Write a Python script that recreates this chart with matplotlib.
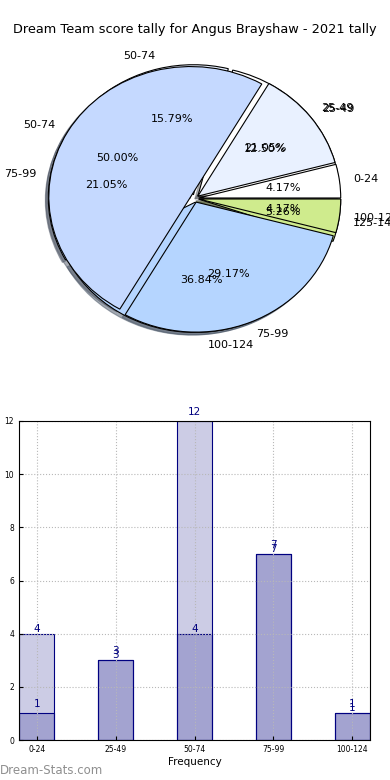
import matplotlib
matplotlib.use('Agg')
import matplotlib.pyplot as plt
import numpy as np

# Data
title = 'Dream Team score tally for Angus Brayshaw - 2021 tally'
labels_a = ['0-24', '25-49', '50-74', '75-99', '100-124']
counts_a = [1, 3, 12, 7, 1]
labels_b = ['25-49', '50-74', '75-99', '100-124', '125-149']
counts_b = [4, 3, 4, 7, 1]
colours = ['#ffffff', '#e9f1ff', '#c5d9ff', '#b5d5ff', '#cfeb8d']

fig = plt.figure(figsize=(3.9, 7.8), dpi=100)
fig.text(0.5, 1 - 30 / 780, title, ha='center', va='center', fontsize=9.3)

# Pie (two tallies drawn on top of each other)
ax1 = fig.add_axes([17 / 390, 419 / 780, 355 / 390, 325 / 780])
wp = dict(edgecolor='black', linewidth=0.8)
for labels, counts in [(labels_b, counts_b), (labels_a, counts_a)]:
    ax1.pie(counts, labels=labels, colors=colours, explode=[0.03] * len(counts),
            autopct='%1.2f%%', shadow={'ox': -0.015, 'oy': -0.015, 'shade': 0.6},
            startangle=0, wedgeprops=wp, textprops=dict(fontsize=8))
ax1.set_aspect('auto')
ax1.set_xlim(-1.25, 1.25)
ax1.set_ylim(-1.25, 1.25)
ax1.axis('off')

# Bars
ax2 = fig.add_axes([19 / 390, 40 / 780, 351 / 390, 319 / 780])
x = np.arange(len(labels_a))
w = 0.45
face = (0, 0, 0.5, 0.2)
ax2.bar(x, counts_a, w, color=face, edgecolor='navy', linewidth=0.8)
ax2.bar(x, counts_b, w, color=face, edgecolor='navy', linewidth=0.8)
for xi, h in zip(x, counts_a):
    ax2.annotate(str(h), (xi, h), xytext=(0, 6.5), textcoords='offset points',
                 ha='center', va='center', color='navy', fontsize=7.5)
for xi, h in zip(x, counts_b):
    ax2.annotate(str(h), (xi, h), xytext=(0, 3.6), textcoords='offset points',
                 ha='center', va='center', color='navy', fontsize=7.5)
ax2.set_xlim(-w / 2, len(x) - 1 + w / 2)
ax2.set_ylim(0, 12)
ax2.set_xticks(x)
ax2.set_xticklabels(labels_a, fontsize=5.5)
ax2.set_yticks(range(0, 13, 2))
ax2.tick_params(axis='y', labelsize=5.5, direction='in', length=3)
ax2.tick_params(axis='x', direction='in', length=3)
ax2.grid(True, linestyle=':', color='#b8b8b8', linewidth=0.8)
ax2.set_xlabel('Frequency', fontsize=7.5, labelpad=2)
ax2.set_ylabel('Score interval', fontsize=7.5, labelpad=10)

fig.text(0.0, 1 - 770 / 780, 'Dream-Stats.com', ha='left', va='center',
         fontsize=8.5, color='#8f8f8f')

fig.savefig('out.png', dpi=100)
